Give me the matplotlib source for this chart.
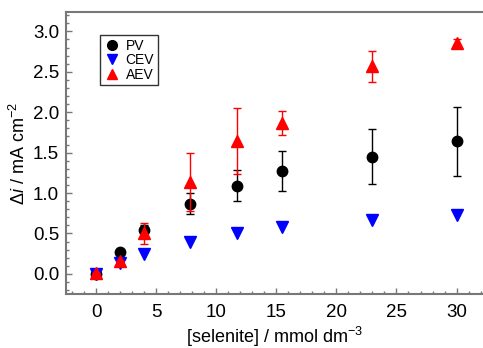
import matplotlib
matplotlib.use('Agg')
import matplotlib.pyplot as plt
from matplotlib.lines import Line2D
from matplotlib.ticker import MultipleLocator, FormatStrFormatter

plt.rcParams['font.family'] = ['Liberation Sans', 'DejaVu Sans']
plt.rcParams['mathtext.fontset'] = 'custom'
plt.rcParams['mathtext.rm'] = 'Liberation Sans'
plt.rcParams['mathtext.it'] = 'Liberation Sans:italic'

conc = [0, 2, 4, 7.8, 11.7, 15.5, 23, 30]

pv = [0.0, 0.27, 0.54, 0.87, 1.09, 1.27, 1.45, 1.64]
pv_err = [0.0, 0.0, 0.06, 0.13, 0.19, 0.25, 0.34, 0.43]

cev = [0.0, 0.13, 0.25, 0.39, 0.50, 0.58, 0.67, 0.73]

aev = [0.01, 0.16, 0.50, 1.14, 1.64, 1.87, 2.57, 2.86]
aev_err = [0.0, 0.0, 0.13, 0.36, 0.41, 0.15, 0.19, 0.04]

fig = plt.figure(figsize=(4.83, 3.48), dpi=100)
ax = fig.add_axes([0.1366, 0.155, 0.8634, 0.8105])

ax.errorbar(conc, pv, yerr=pv_err, fmt='o', color='black', ms=7.5,
            elinewidth=1, capsize=3, capthick=1, zorder=3)
ax.plot(conc, cev, 'v', color='blue', ms=8, linestyle='none', zorder=4)
ax.errorbar(conc, aev, yerr=aev_err, fmt='^', color='red', ms=8,
            elinewidth=1, capsize=3, capthick=1, zorder=5)

ax.set_xlim(-2.5, 32.2)
ax.set_ylim(-0.25, 3.24)
ax.xaxis.set_major_locator(MultipleLocator(5))
ax.xaxis.set_minor_locator(MultipleLocator(1))
ax.yaxis.set_major_locator(MultipleLocator(0.5))
ax.yaxis.set_minor_locator(MultipleLocator(0.1))
ax.yaxis.set_major_formatter(FormatStrFormatter('%.1f'))

spine_col = '#777777'
for s in ['left', 'bottom', 'top']:
    ax.spines[s].set_color(spine_col)
    ax.spines[s].set_linewidth(1.5)
ax.spines['right'].set_visible(False)

ax.tick_params(which='both', direction='in', colors=spine_col,
               labelcolor='black', labelsize=13.5, top=False, right=False)
ax.tick_params(which='major', length=4, width=1)
ax.tick_params(which='minor', length=2.5, width=1)
ax.tick_params(axis='y', pad=5)
ax.tick_params(axis='x', pad=7)

ax.set_xlabel('[selenite] / mmol dm$^{-3}$', fontsize=13, labelpad=3)
ax.set_ylabel(r'$\Delta\mathit{i}$ / mA cm$^{-2}$', fontsize=13, labelpad=3)

# legend shows markers only, no error bars
handles = [
    Line2D([], [], marker='o', color='black', linestyle='none', ms=7),
    Line2D([], [], marker='v', color='blue', linestyle='none', ms=7.5),
    Line2D([], [], marker='^', color='red', linestyle='none', ms=7.5),
]
leg = ax.legend(handles, ['PV', 'CEV', 'AEV'],
                loc='upper left', bbox_to_anchor=(0.0815, 0.918),
                borderaxespad=0, fontsize=10, frameon=True, fancybox=False,
                handletextpad=0.4, handlelength=1.2, borderpad=0.25,
                labelspacing=0.05)
leg.get_frame().set_edgecolor('black')
leg.get_frame().set_linewidth(1)

fig.savefig('out.png', dpi=100)
